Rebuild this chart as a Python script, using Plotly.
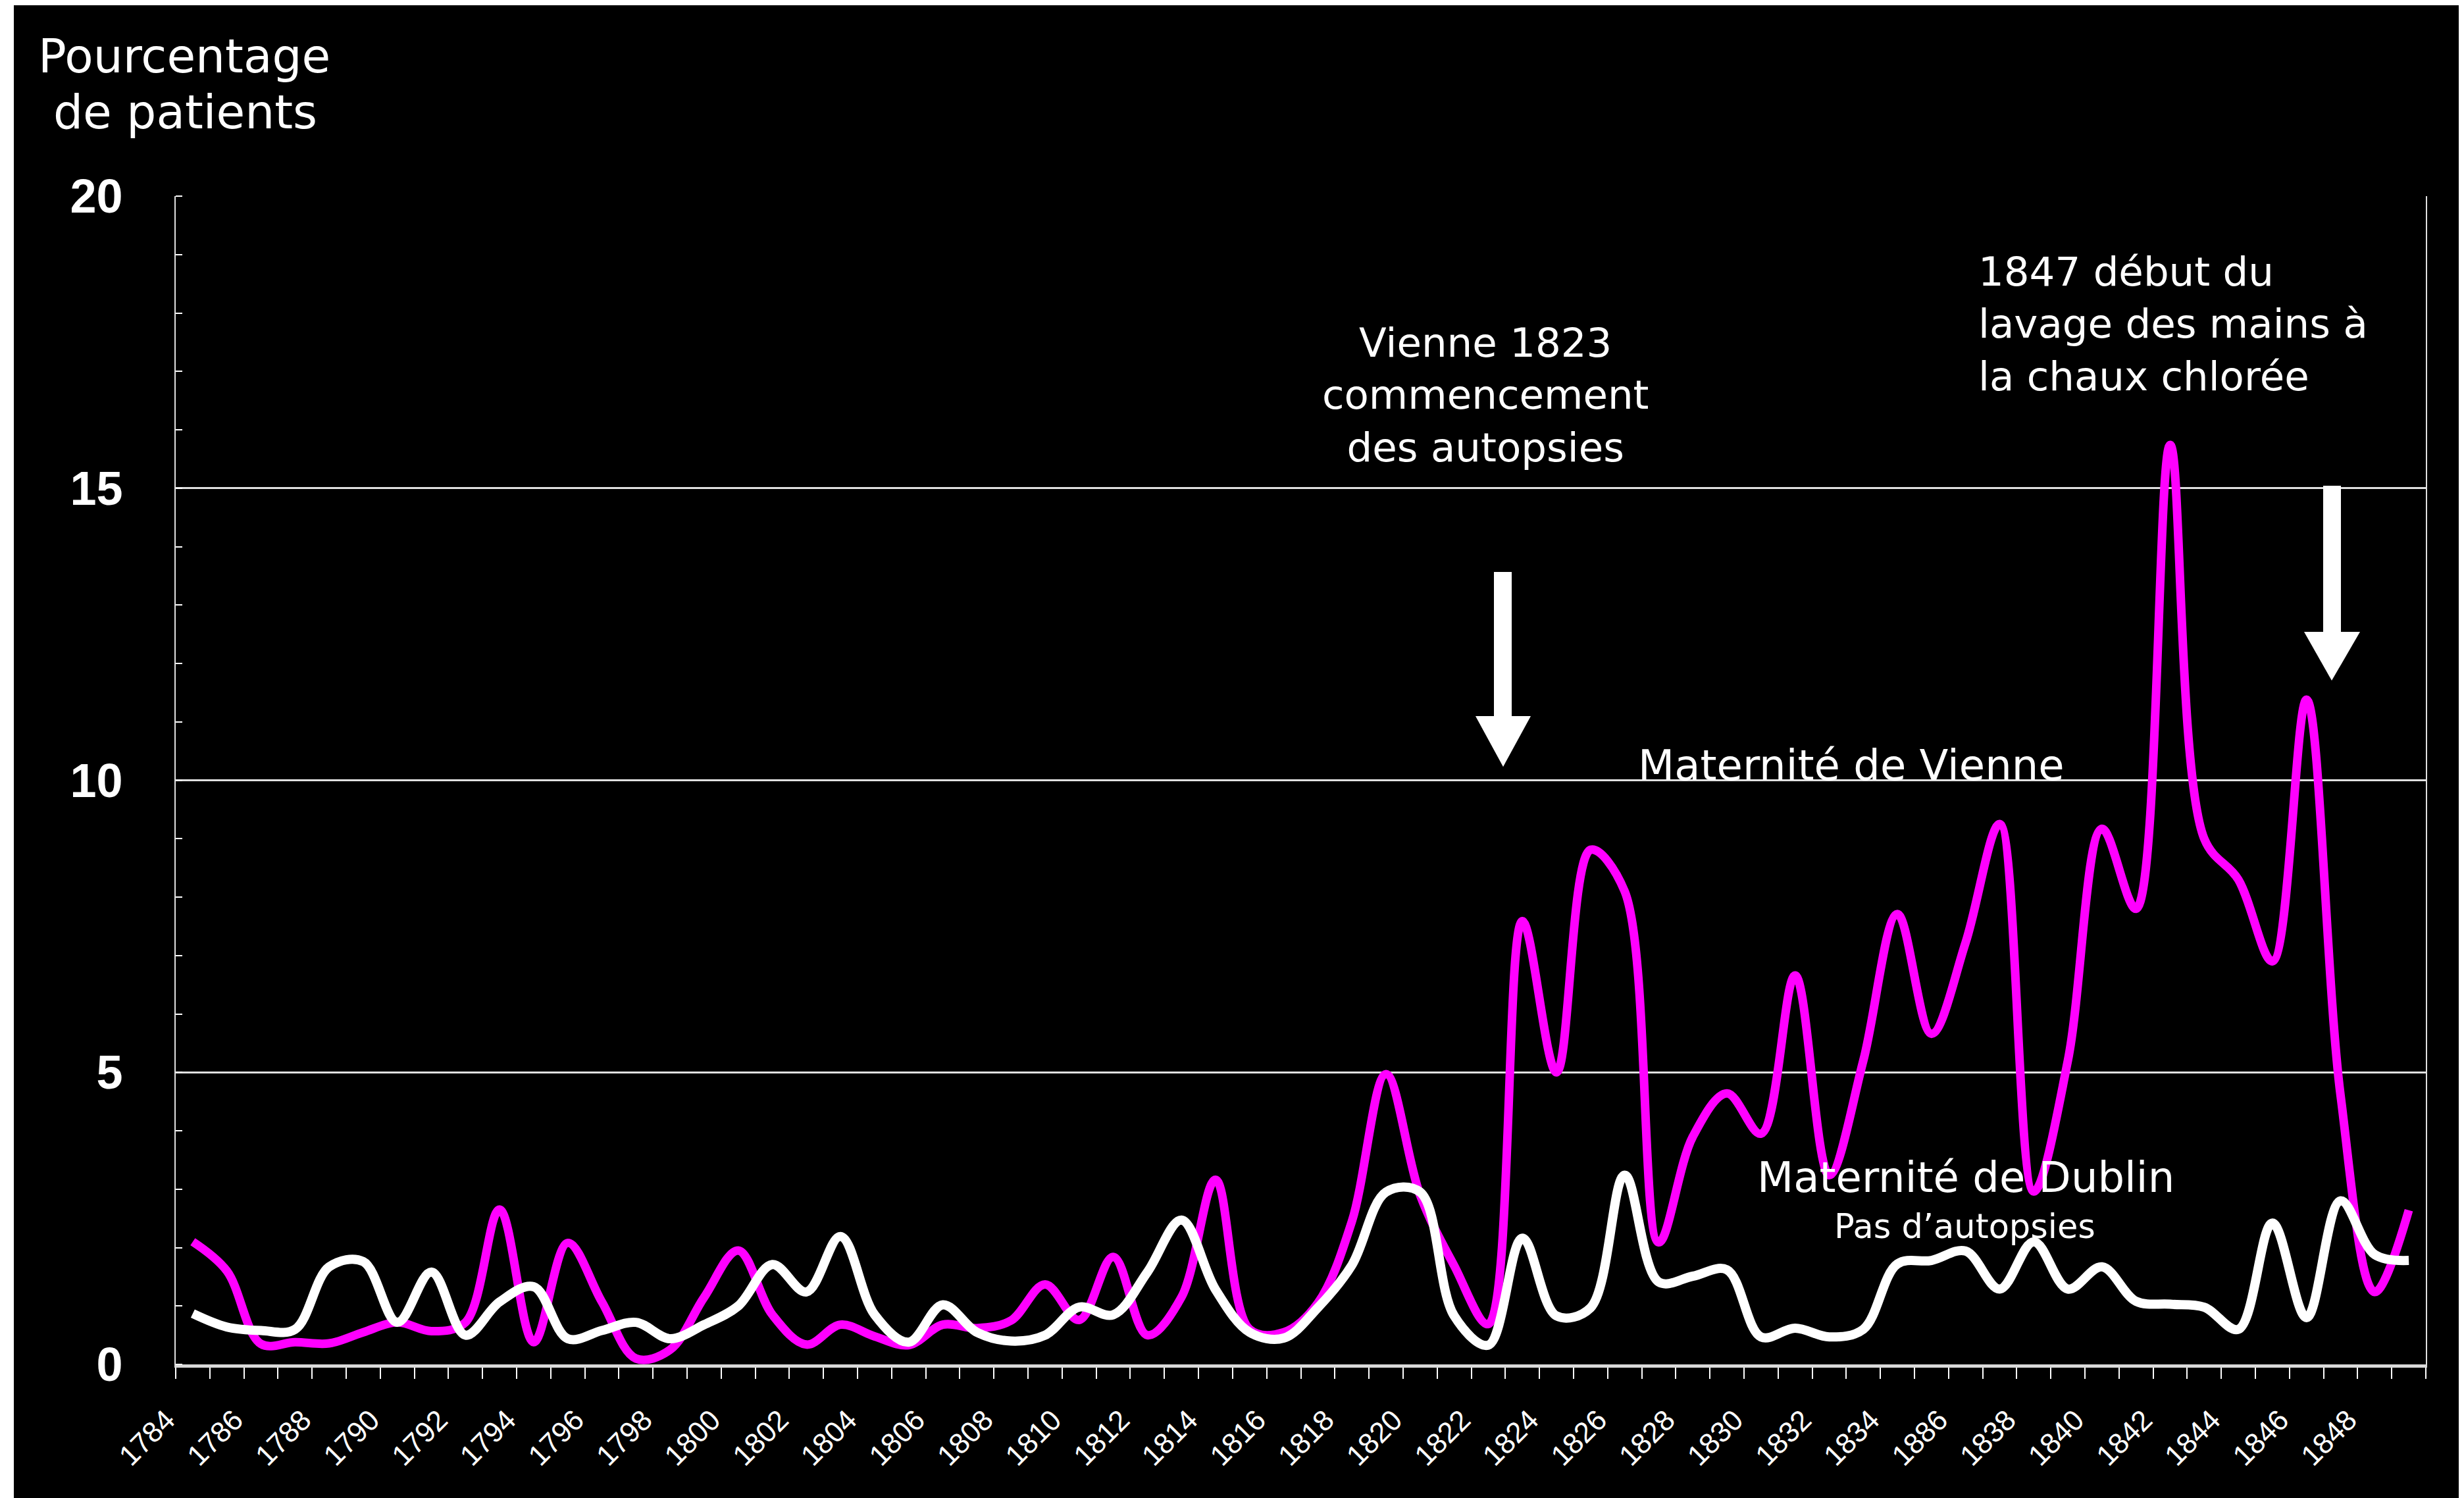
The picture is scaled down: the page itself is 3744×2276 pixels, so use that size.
import plotly.graph_objects as go

# ---------------- data ----------------
years = list(range(1784, 1850))

# Maternité de Vienne (% of patients), one value per year 1784-1849
vienne = [2.1, 1.6, 0.35, 0.38, 0.36, 0.55, 0.72, 0.57, 0.72, 2.65,   # 1784-1793
          0.38, 2.08, 1.07, 0.1, 0.25, 1.15, 1.95, 0.85, 0.34, 0.68,  # 1794-1803
          0.48, 0.33, 0.68, 0.62, 0.75, 1.37, 0.76, 1.84, 0.5, 1.15,  # 1804-1813
          3.16, 0.6, 0.55, 1.05, 2.45, 4.97, 2.9, 1.69, 0.69, 7.59,   # 1814-1823
          5.0, 8.81, 8.1, 2.09, 3.9, 4.64, 3.95, 6.66, 3.24, 5.2,     # 1824-1833
          7.71, 5.66, 7.22, 9.25, 2.96, 5.2, 9.17, 7.8, 15.74, 9.0,   # 1834-1843
          8.3, 6.9, 11.38, 4.6, 1.24, 2.64]                           # 1844-1849

# Maternité de Dublin (% of patients), one value per year 1784-1849
dublin = [0.87, 0.64, 0.58, 0.6, 1.67, 1.76, 0.72, 1.58, 0.5, 1.07,   # 1784-1793
          1.33, 0.44, 0.58, 0.72, 0.44, 0.68, 1.0, 1.71, 1.24, 2.19,  # 1794-1803
          0.85, 0.38, 1.02, 0.55, 0.4, 0.5, 0.98, 0.85, 1.58, 2.47,   # 1804-1813
          1.28, 0.55, 0.45, 0.97, 1.7, 2.95, 2.95, 0.83, 0.33, 2.16,  # 1814-1823
          0.83, 0.97, 3.24, 1.41, 1.51, 1.62, 0.47, 0.62, 0.47, 0.6,  # 1824-1833
          1.72, 1.78, 1.94, 1.29, 2.1, 1.29, 1.67, 1.08, 1.03, 0.98,  # 1834-1843
          0.6, 2.42, 0.8, 2.8, 1.88, 1.78]                            # 1844-1849

tick_years = years[::2]
tick_labels = ["1784", "1786", "1788", "1790", "1792", "1794", "1796", "1798",
               "1800", "1802", "1804", "1806", "1808", "1810", "1812", "1814",
               "1816", "1818", "1820", "1822", "1824", "1826", "1828", "1830",
               "1832", "1834", "1886", "1838", "1840", "1842", "1844", "1846",
               "1848"]
y_ticks = [0, 5, 10, 15, 20]

# ---------------- layout geometry ----------------
W, H = 3744, 2276
OFF = 8                       # page body margin offset
# plot area in screen pixels: x 267..3686, y 298..2073
L = 267 - OFF
T = 298 - OFF
R = W - (3686 - OFF)
B = H - (2073 - OFF)
PW = W - L - R
PH = H - T - B


def px(X):
    """screen x (reference pixels) -> paper x"""
    return (X - OFF - L) / PW


def py(Y):
    """screen y (reference pixels) -> paper y"""
    return (H - B - (Y - OFF)) / PH


TXT = "DejaVu Sans"
NUM = "Liberation Sans"

fig = go.Figure()
fig.add_trace(go.Scatter(
    x=years, y=vienne, mode="lines", name="Maternité de Vienne",
    line=dict(color="#FF00FF", width=13, shape="spline", smoothing=1.0),
    hoverinfo="skip"))
fig.add_trace(go.Scatter(
    x=years, y=dublin, mode="lines", name="Maternité de Dublin",
    line=dict(color="#FFFFFF", width=14, shape="spline", smoothing=1.0),
    hoverinfo="skip"))


def ann(text, X, Y, size, xanchor="center", align="center"):
    return dict(text=text, x=px(X), y=py(Y), xref="paper", yref="paper",
                xanchor=xanchor, yanchor="middle", align=align, showarrow=False,
                font=dict(family=TXT, size=size, color="white"))


annotations = [
    ann("Pourcentage", 280, 86, 71),
    ann("de patients", 281, 170, 71),
    ann("Vienne 1823<br>commencement<br>des autopsies", 2257, 600, 61),
    ann("1847 début du<br>lavage des mains à<br>la chaux chlorée", 3004, 492, 61,
        xanchor="left", align="left"),
    ann("Maternité de Vienne", 2813, 1163, 64),
    ann("Maternité de Dublin", 2987, 1789, 64),
    ann("Pas d’autopsies", 2985, 1863, 51),
]


def rect(x0, y0, x1, y1, color="white"):
    return dict(type="rect", xref="paper", yref="paper",
                x0=px(x0), x1=px(x1), y0=py(y1), y1=py(y0),
                fillcolor=color, line=dict(width=0), layer="above")


def tri(xa, xb, ytop, xc, ytip):
    path = (f"M {px(xa)},{py(ytop)} L {px(xb)},{py(ytop)} "
            f"L {px(xc)},{py(ytip)} Z")
    return dict(type="path", xref="paper", yref="paper", path=path,
                fillcolor="white", line=dict(width=0), layer="above")


shapes = [
    # thin white frame strip on the left of the original picture
    rect(0, 0, 21, H + OFF),
    # arrow 1823
    rect(2270, 869, 2297, 1092),
    tri(2242, 2326, 1088, 2284, 1165),
    # arrow 1847
    rect(3530, 738, 3557, 964),
    tri(3501, 3586, 960, 3543, 1034),
]

fig.update_layout(
    width=W, height=H,
    margin=dict(l=L, r=R, t=T, b=B, pad=0),
    paper_bgcolor="black", plot_bgcolor="black",
    showlegend=False,
    annotations=annotations,
    shapes=shapes,
    xaxis=dict(
        range=[1783.5, 1849.5], tickmode="array",
        tickvals=tick_years, ticktext=tick_labels, tickangle=-45,
        tickfont=dict(family=NUM, size=44, color="white"),
        ticks="", showline=True, linecolor="#d9d9d9", linewidth=5,
        ticklabelstandoff=36, ticklabelshift=-40,
        showgrid=False, zeroline=False, automargin=False, fixedrange=True,
        minor=dict(tickmode="linear", tick0=1783.5, dtick=1, ticks="outside",
                   ticklen=17, tickwidth=2, tickcolor="white", showgrid=False),
    ),
    yaxis=dict(
        range=[0, 20], tickmode="array", tickvals=y_ticks,
        tickfont=dict(family=NUM, size=72, color="white", weight="bold"),
        showgrid=True, gridcolor="#e0e0e0", gridwidth=3,
        showline=True, mirror=True, linecolor="#e0e0e0", linewidth=2,
        zeroline=False, ticks="", ticklabelstandoff=64,
        automargin=False, fixedrange=True,
        minor=dict(tickmode="linear", tick0=0, dtick=1, ticks="inside",
                   ticklen=10, tickwidth=2, tickcolor="white", showgrid=False),
    ),
)

fig.write_html("out.html", config={"displayModeBar": False})
